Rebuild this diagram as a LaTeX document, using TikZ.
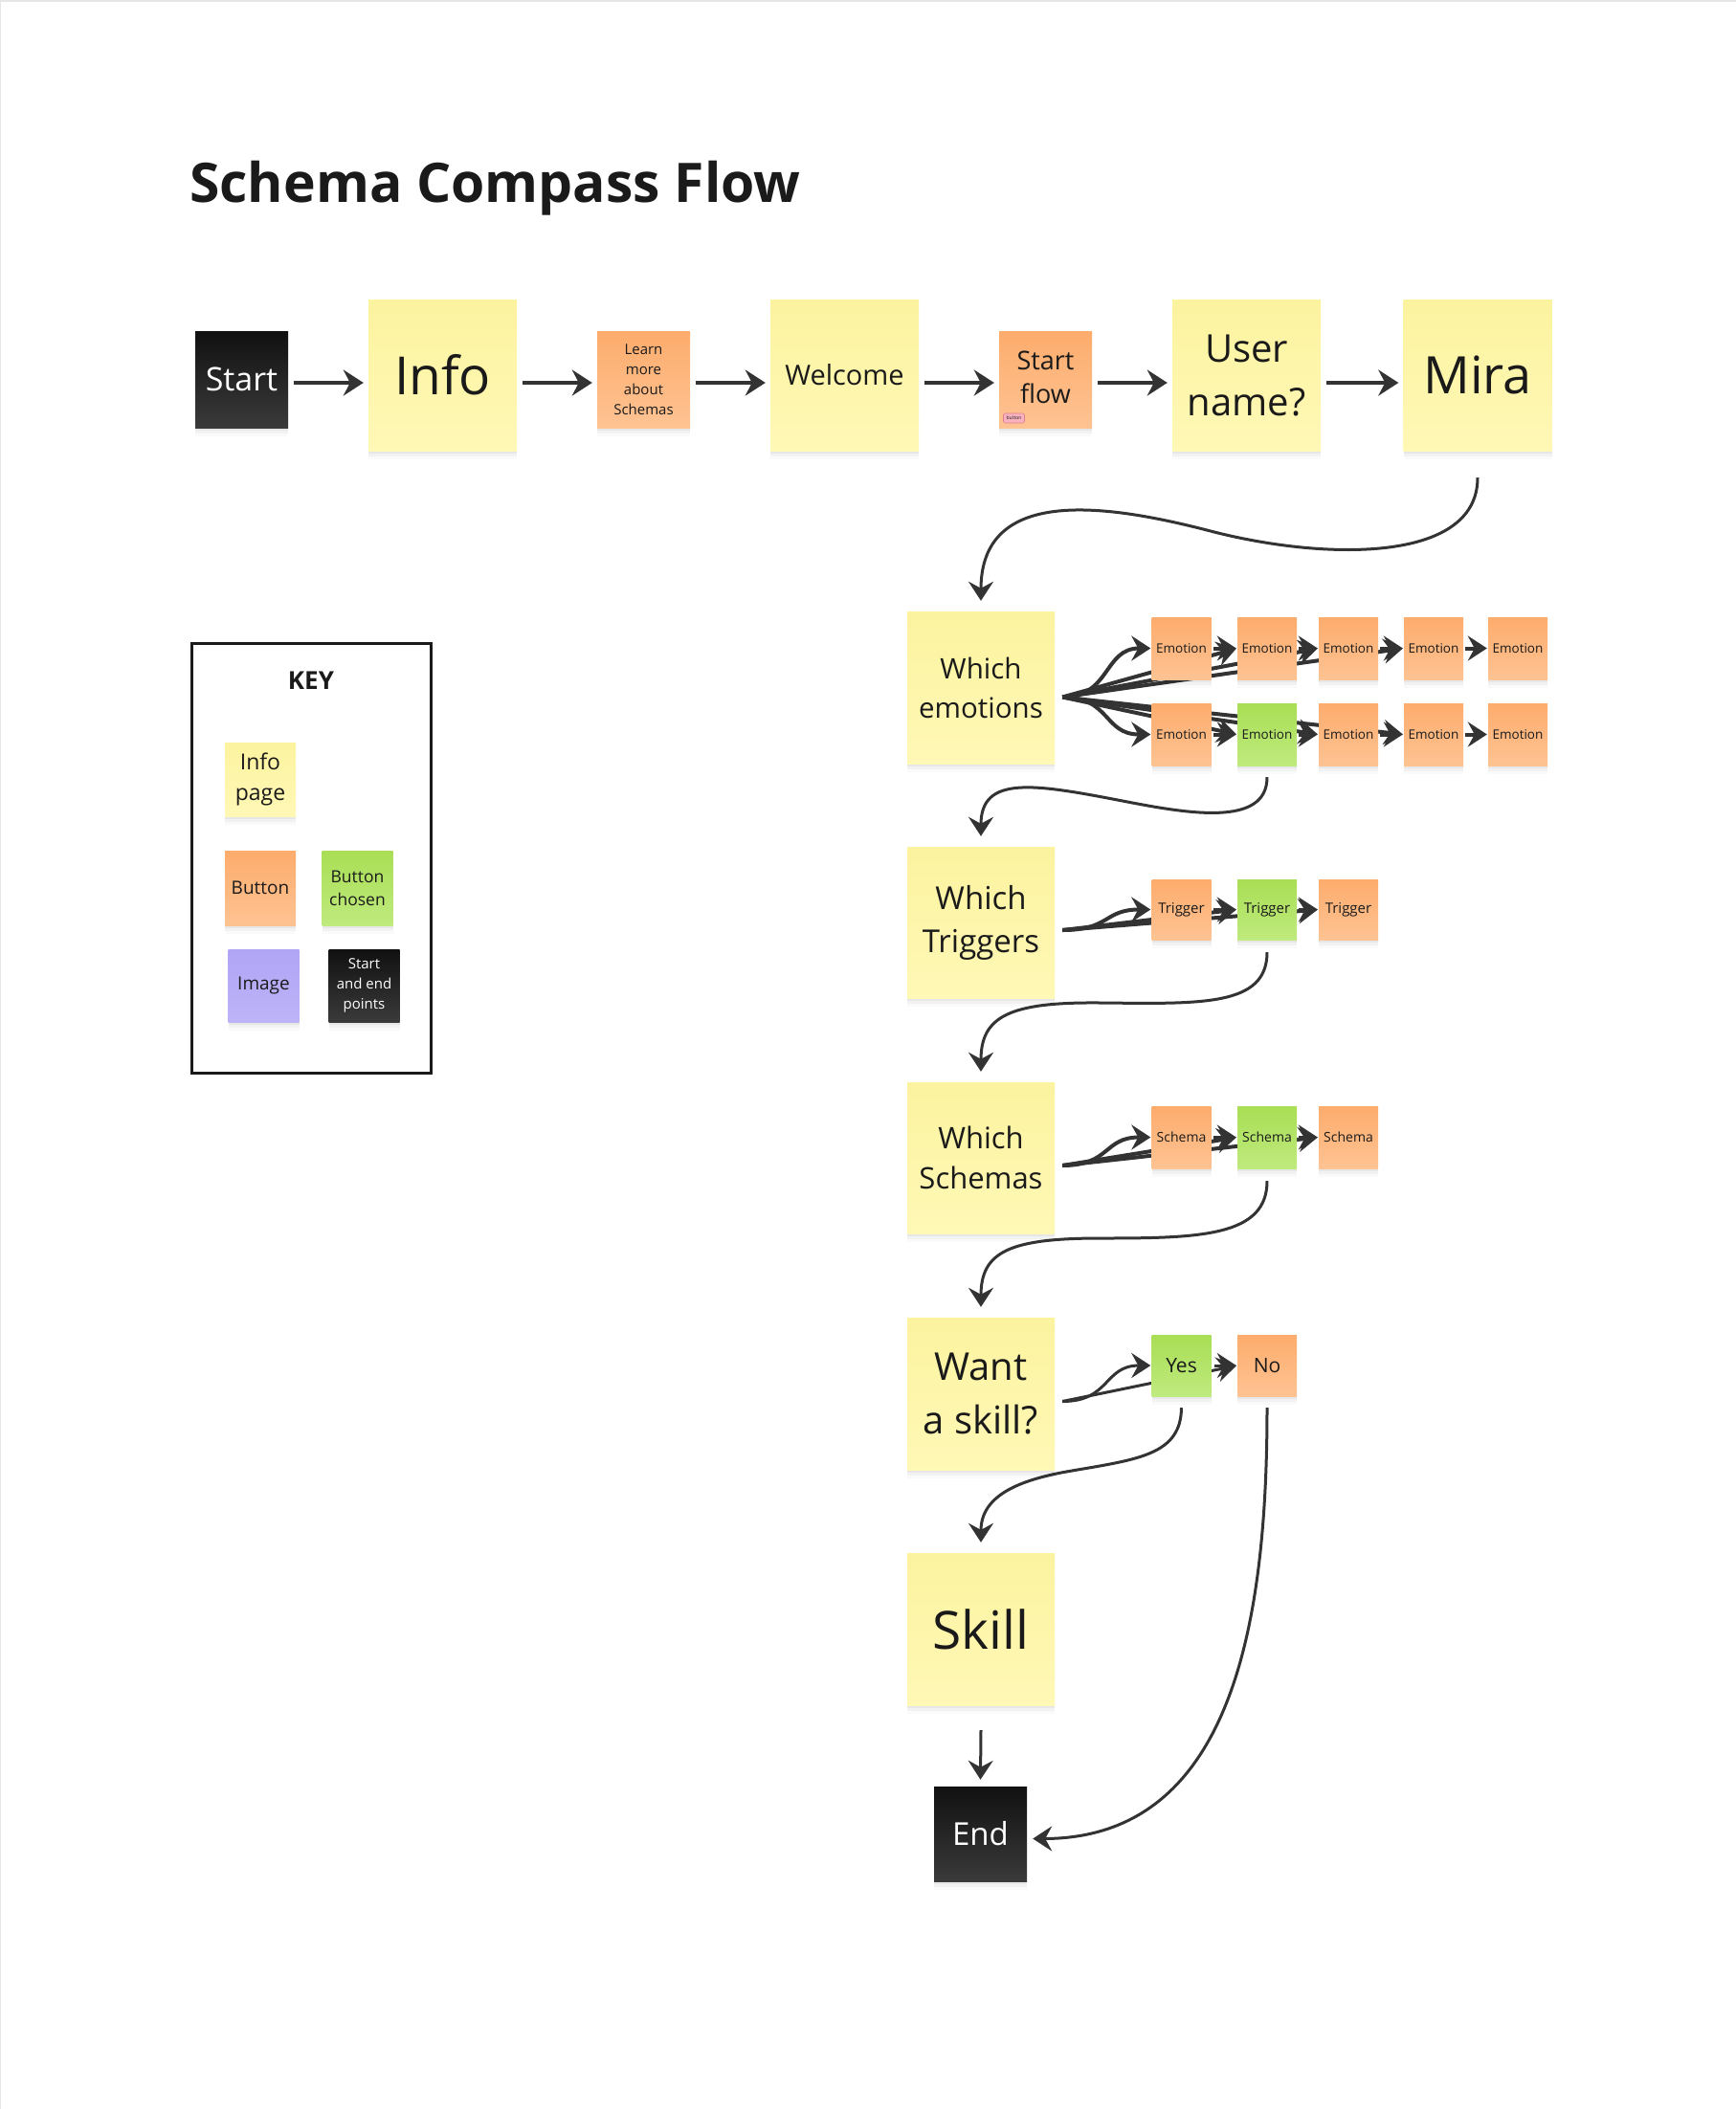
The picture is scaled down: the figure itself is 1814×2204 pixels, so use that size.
\documentclass[tikz,border=0pt]{standalone}
\usepackage{fontspec}
\setmainfont{Open Sans}
\usetikzlibrary{arrows.meta,shadows}
\pgfdeclarelayer{background}
\pgfsetlayers{background,main}

\definecolor{inkc}{HTML}{333333}
\definecolor{txtc}{HTML}{1A1A1A}
\definecolor{yelT}{HTML}{FCF39F}
\definecolor{yelB}{HTML}{FFF8B6}
\definecolor{oraT}{HTML}{FDAC6C}
\definecolor{oraB}{HTML}{FEC393}
\definecolor{grnT}{HTML}{A9DE55}
\definecolor{grnB}{HTML}{BFEA7E}
\definecolor{purT}{HTML}{B0A4F5}
\definecolor{purB}{HTML}{BDB4F8}
\definecolor{blkT}{HTML}{111111}
\definecolor{blkB}{HTML}{3A3A3A}
\definecolor{tagF}{HTML}{F8B2BE}
\definecolor{tagD}{HTML}{E07D92}
\definecolor{edgec}{HTML}{E6E6E6}

\tikzset{
  note/.style={rectangle, inner sep=0pt, align=center, text=txtc,
    general shadow={shadow yshift=-9pt, fill=black, opacity=0.02},
    general shadow={shadow yshift=-6pt, fill=black, opacity=0.03},
    general shadow={shadow yshift=-3pt, fill=black, opacity=0.045}},
  yel/.style={note, top color=yelT, bottom color=yelB},
  ora/.style={note, top color=oraT, bottom color=oraB},
  grn/.style={note, top color=grnT, bottom color=grnB},
  pur/.style={note, top color=purT, bottom color=purB},
  blk/.style={note, top color=blkT, bottom color=blkB, text=white},
  sz/.style 2 args={minimum width=#1, minimum height=#2},
  fnt/.style 2 args={font=\fontsize{#1}{#2}\selectfont},
  big/.style={sz={155pt}{158pt}},
  small/.style={sz={97pt}{101pt}},
  chip/.style={sz={62pt}{65pt}, fnt={13.5}{16}},
  keynote/.style={sz={74pt}{77pt}},
  conn/.style={draw=inkc, line width=4pt, -{Stealth[length=21pt,width=27pt,inset=7pt]}},
  fan/.style={draw=inkc, line width=4pt, -{Stealth[length=20pt,width=26pt,inset=7pt]}, shorten >=1pt},
  curve/.style={draw=inkc, line width=3pt, -{Stealth[length=20pt,width=26pt,inset=7pt]}},
}

\begin{document}
\begin{tikzpicture}[x=1pt,y=-1pt]
\useasboundingbox (0,0) rectangle (1814,2204);
\begin{pgfonlayer}{background}
  \fill[white] (0,0) rectangle (1814,2204);
  \draw[edgec, line width=1.5pt] (0,2204) -- (0,0.75) -- (1814,0.75);
\end{pgfonlayer}

% title
\node[anchor=base west, inner sep=0pt, text=txtc, font=\bfseries\fontsize{57}{60}\selectfont] (title) at (198,211) {Schema Compass Flow};

% top row
\node[blk, small, fnt={34}{40}] (start) at (252.5,396.5) {Start};
\node[yel, big, fnt={55}{60}] (info) at (462.5,392) {Info};
\node[ora, small, fnt={15}{21}] (learn) at (672.5,396.5) {Learn\\more\\about\\Schemas};
\node[yel, big, fnt={29}{36}] (welcome) at (882.5,392) {Welcome};
\node[ora, small, fnt={27}{35}] (startflow) at (1092.5,396.5) {\raisebox{5pt}{\begin{tabular}{@{}c@{}}Start\\flow\end{tabular}}};
\node[rectangle, rounded corners=1.5pt, fill=tagF, draw=tagD, line width=0.6pt, inner sep=0pt, sz={22pt}{10pt}, fnt={5}{6}, text=txtc] (btntag) at (1059.5,437) {button};
\node[yel, big, fnt={40}{56}] (username) at (1302.5,392) {User\\name?};
\node[yel, big, fnt={54}{60}] (mira) at (1544,392) {Mira};
\coordinate (rowy) at (0,400);

% main column
\node[yel, big, sz={154pt}{159pt}, fnt={29.5}{41}] (wemo) at (1025,718.5) {Which\\emotions};
\node[yel, big, sz={154pt}{158pt}, fnt={33}{45}] (wtrig) at (1025,964) {Which\\Triggers};
\node[yel, big, sz={154pt}{158pt}, fnt={31}{42}] (wschema) at (1025,1210) {Which\\Schemas};
\node[yel, big, sz={154pt}{159pt}, fnt={40}{56}] (wskill) at (1025,1456.5) {Want\\a skill?};
\node[yel, big, sz={154pt}{159pt}, fnt={55}{60}] (skill) at (1025,1702.5) {Skill};
\node[blk, sz={97pt}{99pt}, fnt={33}{40}] (end) at (1024.5,1916.5) {End};

% emotions
\node[ora, chip] (emo-t1) at (1234.5,677.5) {Emotion};
\node[ora, chip] (emo-t2) at (1324,677.5) {Emotion};
\node[ora, chip] (emo-t3) at (1409,677.5) {Emotion};
\node[ora, chip] (emo-t4) at (1498,677.5) {Emotion};
\node[ora, chip] (emo-t5) at (1586,677.5) {Emotion};
\node[ora, chip] (emo-b1) at (1234.5,767.5) {Emotion};
\node[grn, chip] (emo-b2) at (1324,767.5) {Emotion};
\node[ora, chip] (emo-b3) at (1409,767.5) {Emotion};
\node[ora, chip] (emo-b4) at (1498,767.5) {Emotion};
\node[ora, chip] (emo-b5) at (1586,767.5) {Emotion};

% triggers
\node[ora, chip, sz={62pt}{63pt}, fnt={15}{18}] (trig1) at (1234.5,950.5) {Trigger};
\node[grn, chip, sz={62pt}{63pt}, fnt={15}{18}] (trig2) at (1324,950.5) {Trigger};
\node[ora, chip, sz={62pt}{63pt}, fnt={15}{18}] (trig3) at (1409,950.5) {Trigger};

% schemas
\node[ora, chip, fnt={14}{17}] (sch1) at (1234.5,1188.5) {Schema};
\node[grn, chip, fnt={14}{17}] (sch2) at (1324,1188.5) {Schema};
\node[ora, chip, fnt={14}{17}] (sch3) at (1409,1188.5) {Schema};

% yes / no
\node[grn, sz={62pt}{64pt}, fnt={21}{24}] (yes) at (1234.5,1427) {Yes};
\node[ora, sz={62pt}{64pt}, fnt={21}{24}] (no) at (1324,1427) {No};

% key
\node[draw=txtc, line width=3pt, rectangle, inner sep=0pt, sz={250pt}{449pt}] (keyframe) at (325,896.5) {};
\node[inner sep=0pt, text=txtc, font=\bfseries\fontsize{26}{30}\selectfont] (keytitle) at (325,711) {KEY};
\node[yel, keynote, fnt={23}{32}] (kinfo) at (272,814.5) {Info\\page};
\node[ora, keynote, sz={74pt}{78pt}, fnt={19}{24}] (kbutton) at (272,928) {Button};
\node[grn, keynote, sz={74pt}{78pt}, fnt={17.5}{24}] (kchosen) at (373.5,928) {Button\\chosen};
\node[pur, keynote, sz={74pt}{76pt}, fnt={19}{24}] (kimage) at (275.5,1030) {Image};
\node[blk, keynote, sz={74pt}{76pt}, fnt={15}{21}] (kstartend) at (380.5,1030) {Start\\and end\\points};

% connectors
\coordinate (esrc) at ([xshift=8pt,yshift=-10pt]wemo.east);
\coordinate (tsrc) at ([xshift=8pt,yshift=-8pt]wtrig.east);
\coordinate (ssrc) at ([xshift=8pt,yshift=-8pt]wschema.east);
\coordinate (ksrc) at ([xshift=8pt,yshift=-8pt]wskill.east);

\begin{pgfonlayer}{background}
  % top row
  \draw[conn, shorten <=6pt, shorten >=5pt] (start.east |- rowy) -- (info.west |- rowy);
  \draw[conn, shorten <=6pt, shorten >=5pt] (info.east |- rowy) -- (learn.west |- rowy);
  \draw[conn, shorten <=6pt, shorten >=5pt] (learn.east |- rowy) -- (welcome.west |- rowy);
  \draw[conn, shorten <=6pt, shorten >=5pt] (welcome.east |- rowy) -- (startflow.west |- rowy);
  \draw[conn, shorten <=6pt, shorten >=5pt] (startflow.east |- rowy) -- (username.west |- rowy);
  \draw[conn, shorten <=6pt, shorten >=5pt] (username.east |- rowy) -- (mira.west |- rowy);

  % big S curves
  \draw[curve] ([yshift=-28pt]mira.south) .. controls (1544,590) and (1380,585) .. (1265,555)
     .. controls (1150,525) and (1025,510) .. ([yshift=11pt]wemo.north);
  \draw[curve] ([yshift=-12pt]emo-b2.south) .. controls (1324,865) and (1240,850) .. (1173,837)
     .. controls (1080,819) and (1025,810) .. ([yshift=11pt]wtrig.north);
  \draw[curve] ([yshift=-13pt]trig2.south) .. controls (1324,1052) and (1255,1049) .. (1150,1048)
     .. controls (1055,1047) and (1025,1062) .. ([yshift=11pt]wschema.north);
  \draw[curve] ([yshift=-13pt]sch2.south) .. controls (1324,1292) and (1255,1294) .. (1150,1294)
     .. controls (1055,1294) and (1025,1308) .. ([yshift=11pt]wskill.north);
  \draw[curve] ([yshift=-12pt]yes.south) .. controls (1234,1520) and (1190,1525) .. (1120,1537)
     .. controls (1060,1547) and (1025,1565) .. ([yshift=11pt]skill.north);
  \draw[curve] ([yshift=-12pt]no.south) .. controls (1324,1690) and (1290,1921) .. ([xshift=6pt,yshift=-5pt]end.east);
  \draw[curve] ([yshift=-26pt]skill.south) -- ([yshift=7pt]end.north);

  % emotions fan
  \draw[fan] (esrc) .. controls +(50,0) and +(-50,0) .. (emo-t1.west);
  \draw[fan] (esrc) .. controls +(50,0) and +(-50,0) .. (emo-b1.west);
  \foreach \n in {t2,t3,t4,b2,b3,b4} \draw[fan] (esrc) -- (emo-\n.west);
  \draw[fan, shorten <=2pt] (emo-t1.east) -- (emo-t2.west);
  \draw[fan, shorten <=2pt] (emo-t2.east) -- (emo-t3.west);
  \draw[fan, shorten <=2pt] (emo-t3.east) -- (emo-t4.west);
  \draw[fan, shorten <=2pt] (emo-t4.east) -- (emo-t5.west);
  \draw[fan, shorten <=2pt] (emo-b1.east) -- (emo-b2.west);
  \draw[fan, shorten <=2pt] (emo-b2.east) -- (emo-b3.west);
  \draw[fan, shorten <=2pt] (emo-b3.east) -- (emo-b4.west);
  \draw[fan, shorten <=2pt] (emo-b4.east) -- (emo-b5.west);

  % triggers fan
  \draw[fan] (tsrc) .. controls +(50,0) and +(-50,0) .. (trig1.west);
  \draw[fan] (tsrc) -- (trig2.west);
  \draw[fan] (tsrc) -- (trig3.west);
  \draw[fan, shorten <=2pt] (trig1.east) -- (trig2.west);
  \draw[fan, shorten <=2pt] (trig2.east) -- (trig3.west);

  % schemas fan
  \draw[fan] (ssrc) .. controls +(50,0) and +(-50,0) .. (sch1.west);
  \draw[fan] (ssrc) -- (sch2.west);
  \draw[fan] (ssrc) -- (sch3.west);
  \draw[fan, shorten <=2pt] (sch1.east) -- (sch2.west);
  \draw[fan, shorten <=2pt] (sch2.east) -- (sch3.west);

  % yes / no
  \draw[fan, line width=3pt] (ksrc) .. controls +(50,0) and +(-50,0) .. (yes.west);
  \draw[fan, line width=3pt] (ksrc) -- (no.west);
  \draw[fan, line width=3pt, shorten <=3pt] (yes.east) -- (no.west);
\end{pgfonlayer}
\end{tikzpicture}
\end{document}
